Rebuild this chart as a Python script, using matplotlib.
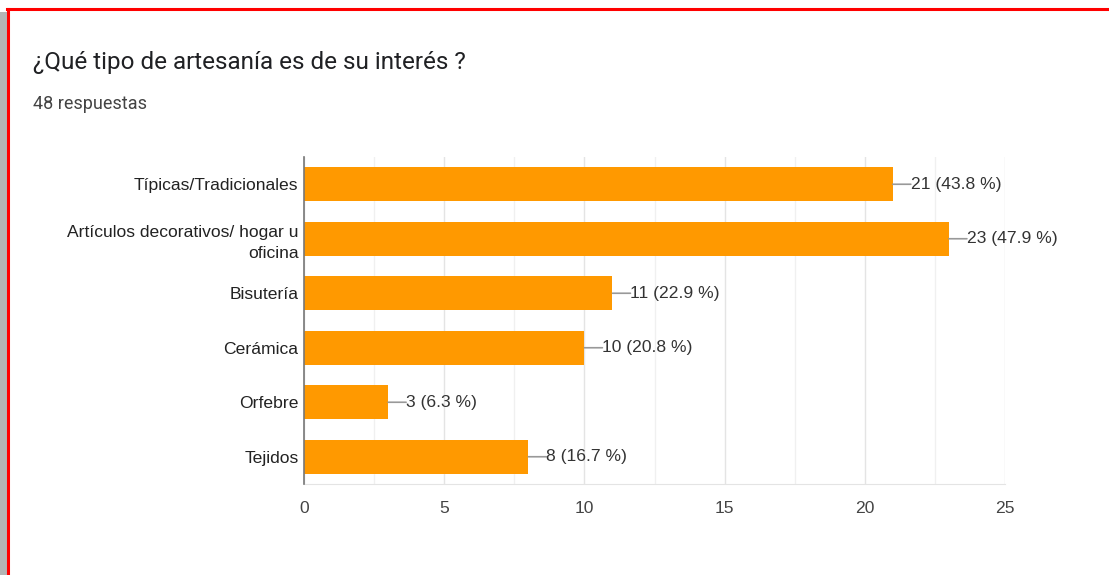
import matplotlib
matplotlib.use("Agg")
import matplotlib.pyplot as plt
from matplotlib.lines import Line2D
from matplotlib.patches import Rectangle
from matplotlib.ticker import MultipleLocator

title = "¿Qué tipo de artesanía es de su interés ?"
subtitle = "48 respuestas"
categories = ["Típicas/Tradicionales", "Artículos decorativos/ hogar u\noficina",
              "Bisutería", "Cerámica", "Orfebre", "Tejidos"]
values = [21, 23, 11, 10, 3, 8]
percents = [43.8, 47.9, 22.9, 20.8, 6.3, 16.7]
xticks = [0, 5, 10, 15, 20, 25]

W, H, DPI = 1109, 575, 100
fig = plt.figure(figsize=(W / DPI, H / DPI), dpi=DPI)
fig.patch.set_facecolor("white")

def fx(px):
    return px / W

def fy(py):
    return 1 - py / H

# shadow and red frame
fig.add_artist(Rectangle((0, 0), fx(7), fy(12), transform=fig.transFigure,
                         facecolor="#b4b4b4", edgecolor="none"))
fig.add_artist(Line2D([fx(8), fx(8)], [fy(9), 0], transform=fig.transFigure,
                      color="#ff0000", lw=2.2))
fig.add_artist(Line2D([fx(7), 1], [fy(9), fy(9)], transform=fig.transFigure,
                      color="#ff0000", lw=2.2))

fig.text(fx(33), fy(63), title, fontsize=17.5, family="Roboto", color="#202124",
         va="center", ha="left")
fig.text(fx(33), fy(104), subtitle, fontsize=13, family="Roboto", color="#444444",
         va="center", ha="left")

ax = fig.add_axes([fx(304), fy(484), fx(1005) - fx(304), fy(157) - fy(484)])
ypos = list(range(len(categories)))
ax.barh(ypos, values, height=0.62, color="#ff9900", zorder=3)
ax.set_ylim(len(categories) - 0.5, -0.5)
ax.set_xlim(0, 25)
ax.set_yticks(ypos)
ax.set_yticklabels(categories, fontsize=12.6, family="Liberation Sans", color="#222222",
                   multialignment="right", linespacing=1.5)
ax.set_xticks(xticks)
ax.set_xticklabels([str(t) for t in xticks], fontsize=12.6, family="Liberation Sans",
                   color="#444444")
ax.xaxis.set_minor_locator(MultipleLocator(2.5))
ax.tick_params(axis="both", length=0, which="both")
ax.tick_params(axis="x", pad=12)
ax.tick_params(axis="y", pad=4)
ax.grid(axis="x", which="major", color="#e4e4e4", lw=1, zorder=0)
ax.grid(axis="x", which="minor", color="#f0f0f0", lw=1, zorder=0)
for s in ["top", "right"]:
    ax.spines[s].set_visible(False)
ax.spines["bottom"].set_color("#e4e4e4")
ax.spines["left"].set_color("#777777")
ax.spines["left"].set_linewidth(1.2)
ax.spines["left"].set_zorder(4)

for y, v, p in zip(ypos, values, percents):
    ax.annotate("", xy=(v, y), xytext=(18, 0), textcoords="offset pixels",
                arrowprops=dict(arrowstyle="-", color="#999999", lw=1.2,
                                shrinkA=0, shrinkB=0), zorder=4)
    ax.annotate(f"{v} ({p} %)", xy=(v, y), xytext=(18, 0), textcoords="offset pixels",
                ha="left", va="center", fontsize=12.6, family="Liberation Sans",
                color="#333333", zorder=5)

fig.savefig("out.png", dpi=DPI)
